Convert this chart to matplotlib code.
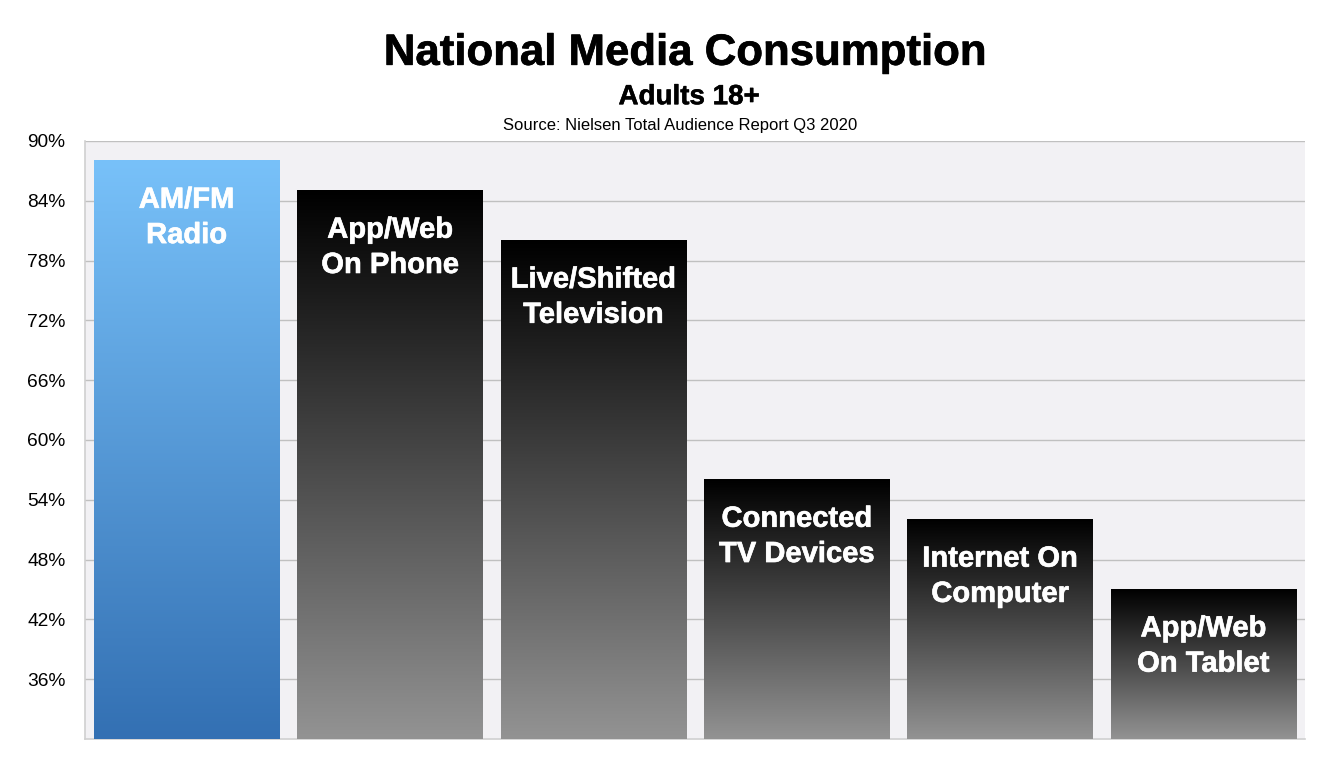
import numpy as np
import matplotlib
matplotlib.use("Agg")
import matplotlib.pyplot as plt
import matplotlib.patheffects as pe
from matplotlib.colors import LinearSegmentedColormap

categories = ["AM/FM\nRadio", "App/Web\nOn Phone", "Live/Shifted\nTelevision",
              "Connected\nTV Devices", "Internet On\nComputer", "App/Web\nOn Tablet"]
values = [88, 85, 80, 56, 52, 45]
yticks = [36, 42, 48, 54, 60, 66, 72, 78, 84, 90]
ytick_labels = [f"{t}%" for t in yticks]

plt.rcParams['font.family'] = ['Liberation Sans', 'DejaVu Sans']

fig = plt.figure(figsize=(13.32, 7.84), dpi=100)
ax = fig.add_axes([0.0638, 0.0574, 0.9159, 0.7628])
ax.set_facecolor('#f2f1f4')
ax.set_xlim(-0.5, len(categories) - 0.5)
ax.set_ylim(30, 90)

ax.set_yticks(yticks)
ax.set_yticklabels(ytick_labels, fontsize=13.8)
ax.set_xticks([])
ax.tick_params(axis='y', length=0, pad=14)
ax.yaxis.grid(True, color='#c0c0c0', linewidth=1.0)
ax.set_axisbelow(True)
for s in ['top', 'right']:
    ax.spines[s].set_visible(False)
for s in ['left', 'bottom']:
    ax.spines[s].set_color('#d0d0d0')
    ax.spines[s].set_linewidth(1.2)

blue_cmap = LinearSegmentedColormap.from_list('blue', ['#3370b3', '#78c1f9'])
black_cmap = LinearSegmentedColormap.from_list('black', ['#939393', '#000000'])

x = np.arange(len(categories))
bars = ax.bar(x, values, width=0.91, color='none', zorder=2)
grad = np.linspace(0, 1, 256).reshape(-1, 1)
for i, b in enumerate(bars):
    x0, y0 = b.get_x(), 30
    x1, y1 = b.get_x() + b.get_width(), b.get_height()
    cmap = blue_cmap if i == 0 else black_cmap
    ax.imshow(grad, extent=[x0, x1, y0, y1], origin='lower', cmap=cmap,
              aspect='auto', zorder=3, interpolation='bicubic')
    ax.text(b.get_x() + b.get_width() / 2, y1 - 2.5, categories[i],
            ha='center', va='top', color='white', fontsize=21,
            fontweight='bold', linespacing=1.33, zorder=4,
            path_effects=[pe.withStroke(linewidth=0.45, foreground='white')])
ax.set_xlim(-0.5, len(categories) - 0.5)
ax.set_ylim(30, 90)

cx = 685 / 1332
fig.text(cx, 0.932, "National Media Consumption", ha='center', va='center',
         fontsize=31.5, fontweight='bold',
         path_effects=[pe.withStroke(linewidth=0.5, foreground='black')])
fig.text(cx + 0.003, 0.876, "Adults 18+", ha='center', va='center',
         fontsize=20, fontweight='bold',
         path_effects=[pe.withStroke(linewidth=0.35, foreground='black')])
fig.text(cx - 0.004, 0.840, "Source: Nielsen Total Audience Report Q3 2020",
         ha='center', va='center', fontsize=12)

fig.savefig('out.png', dpi=100)
